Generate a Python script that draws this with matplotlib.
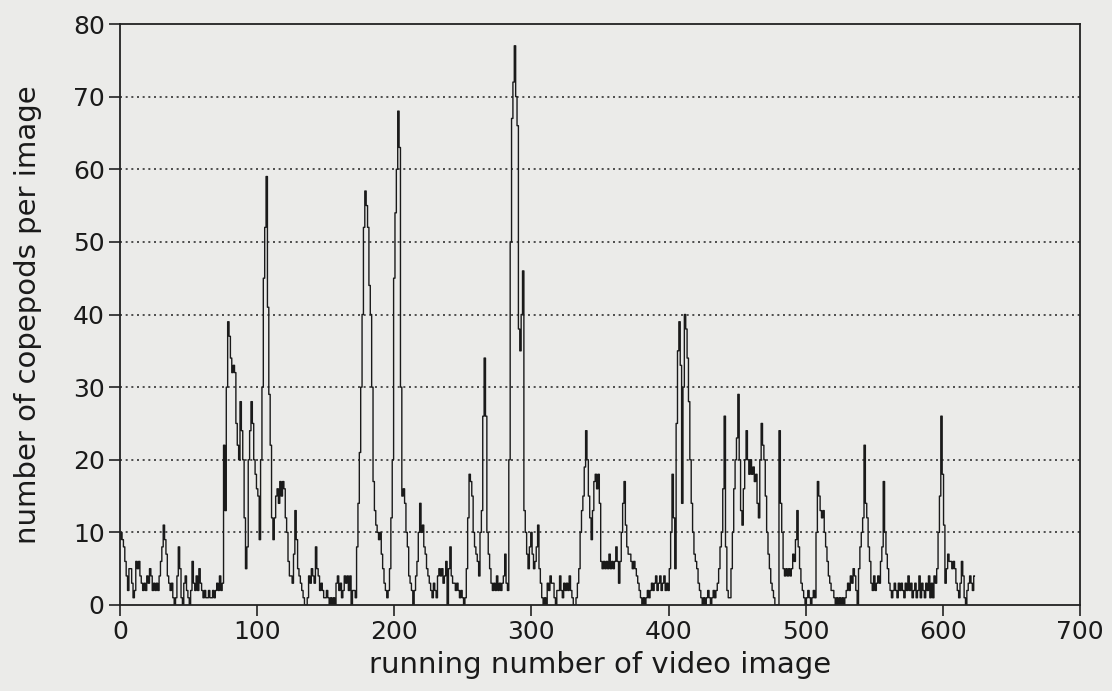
import matplotlib
matplotlib.use("Agg")
import matplotlib.pyplot as plt
import numpy as np

# copepod counts per video image (index = running number of video image)
counts_000 = [9, 10, 9, 8, 6, 4, 2, 5, 5, 3, 1, 2, 6, 5, 6, 4, 3, 2, 3, 2, 4, 3, 5, 4, 2]
counts_025 = [3, 2, 3, 2, 4, 6, 8, 11, 9, 7, 4, 3, 2, 3, 1, 0, 1, 4, 8, 5, 1, 0, 3, 4, 2]
counts_050 = [1, 0, 2, 6, 3, 2, 4, 2, 5, 3, 2, 1, 2, 1, 1, 2, 1, 1, 2, 1, 2, 3, 2, 4, 2]
counts_075 = [3, 22, 13, 30, 39, 37, 34, 32, 33, 32, 25, 22, 20, 28, 24, 20, 12, 5, 8, 20, 24, 28, 25, 20, 18]
counts_100 = [16, 15, 9, 20, 30, 45, 52, 59, 41, 29, 22, 12, 9, 12, 15, 16, 14, 17, 15, 17, 16, 12, 10, 6, 4]
counts_125 = [4, 3, 7, 13, 9, 5, 4, 3, 2, 1, 0, 0, 1, 4, 3, 5, 4, 3, 8, 5, 4, 2, 3, 2, 1]
counts_150 = [1, 2, 1, 0, 1, 0, 1, 0, 3, 4, 2, 3, 1, 2, 4, 3, 4, 2, 4, 0, 2, 2, 1, 8, 14]
counts_175 = [21, 30, 40, 52, 57, 55, 52, 44, 40, 30, 17, 13, 11, 10, 9, 10, 7, 5, 3, 2, 1, 2, 5, 12, 20]
counts_200 = [45, 54, 60, 68, 63, 30, 15, 16, 14, 10, 8, 4, 3, 2, 0, 2, 4, 6, 10, 14, 10, 11, 8, 7, 5]
counts_225 = [4, 3, 2, 1, 3, 2, 1, 4, 5, 4, 5, 3, 4, 6, 0, 5, 8, 4, 3, 3, 2, 3, 2, 1, 2]
counts_250 = [1, 0, 1, 5, 12, 18, 17, 15, 10, 8, 7, 6, 4, 10, 13, 26, 34, 26, 10, 7, 5, 3, 2, 3, 2]
counts_275 = [4, 2, 3, 2, 3, 4, 7, 3, 2, 20, 50, 67, 72, 77, 70, 66, 38, 35, 40, 46, 13, 10, 7, 5, 8]
counts_300 = [10, 7, 5, 6, 8, 11, 5, 3, 1, 0, 1, 0, 3, 2, 4, 3, 3, 1, 0, 2, 2, 4, 2, 1, 3]
counts_325 = [2, 3, 2, 4, 2, 1, 0, 0, 1, 3, 5, 10, 13, 15, 19, 24, 20, 15, 12, 9, 13, 17, 18, 16, 18]
counts_350 = [14, 6, 5, 6, 5, 6, 5, 7, 5, 6, 5, 6, 8, 6, 3, 6, 10, 14, 17, 11, 8, 7, 7, 6, 5]
counts_375 = [6, 5, 4, 3, 2, 1, 0, 1, 0, 1, 2, 1, 2, 3, 2, 3, 4, 2, 3, 4, 2, 3, 4, 2, 3]
counts_400 = [2, 5, 10, 18, 12, 5, 25, 35, 39, 33, 14, 30, 40, 38, 34, 28, 20, 14, 10, 7, 6, 5, 3, 2, 1]
counts_425 = [0, 1, 0, 1, 2, 1, 0, 1, 2, 1, 2, 3, 5, 8, 10, 16, 26, 8, 2, 1, 1, 5, 10, 16, 20]
counts_450 = [23, 29, 20, 13, 11, 16, 20, 24, 20, 18, 20, 18, 19, 17, 18, 14, 12, 20, 25, 22, 20, 15, 10, 7, 5]
counts_475 = [3, 2, 1, 0, 0, 0, 24, 14, 10, 5, 4, 5, 4, 5, 4, 5, 7, 6, 9, 13, 8, 5, 3, 2, 1]
counts_500 = [0, 1, 2, 1, 0, 1, 2, 1, 10, 17, 15, 13, 12, 13, 10, 8, 6, 4, 3, 2, 2, 1, 0, 1, 0]
counts_525 = [1, 0, 1, 0, 1, 2, 3, 2, 4, 3, 5, 4, 2, 0, 5, 8, 10, 12, 22, 14, 12, 8, 6, 3, 2]
counts_550 = [4, 2, 3, 4, 3, 6, 8, 17, 10, 7, 5, 3, 2, 1, 2, 3, 2, 1, 3, 2, 3, 2, 1, 3, 2]
counts_575 = [4, 2, 3, 1, 2, 3, 1, 2, 4, 1, 3, 2, 1, 3, 2, 4, 1, 3, 1, 4, 3, 5, 10, 15, 26]
counts_600 = [18, 11, 3, 5, 7, 6, 6, 5, 6, 5, 3, 2, 1, 3, 6, 4, 1, 0, 2, 3, 4, 3, 2, 4]

counts = (counts_000 + counts_025 + counts_050 + counts_075 + counts_100 + counts_125
          + counts_150 + counts_175 + counts_200 + counts_225 + counts_250 + counts_275
          + counts_300 + counts_325 + counts_350 + counts_375 + counts_400 + counts_425
          + counts_450 + counts_475 + counts_500 + counts_525 + counts_550 + counts_575
          + counts_600)
image_no = list(range(len(counts)))

x_ticks = [0, 100, 200, 300, 400, 500, 600, 700]
y_ticks = [0, 10, 20, 30, 40, 50, 60, 70, 80]

plt.rcParams['font.family'] = ['DejaVu Sans']

bg = '#ebebe9'
fig = plt.figure(figsize=(11.12, 6.91), dpi=100, facecolor=bg)
ax = fig.add_axes([120/1112, 86/691, 960/1112, 581/691])
ax.set_facecolor(bg)

ax.plot(image_no, counts, color='#1a1a1a', lw=1.0, drawstyle='steps-mid')

ax.set_xlim(0, 700)
ax.set_ylim(0, 80)
ax.set_xticks(x_ticks)
ax.set_yticks(y_ticks)
for y in y_ticks[1:-1]:
    ax.axhline(y, color='#333333', lw=1.2, ls=(0, (1.2, 2.2)), zorder=0)

for s in ax.spines.values():
    s.set_color('#222222')
    s.set_linewidth(1.3)
ax.tick_params(direction='out', length=8, width=1.2, color='#222222',
               labelsize=18, labelcolor='#1a1a1a', pad=3)

ax.set_xlabel('running number of video image', fontsize=21, color='#1a1a1a', labelpad=5)
ax.set_ylabel('number of copepods per image', fontsize=21, color='#1a1a1a', labelpad=22)

fig.savefig('out.png', dpi=100, facecolor=bg)
